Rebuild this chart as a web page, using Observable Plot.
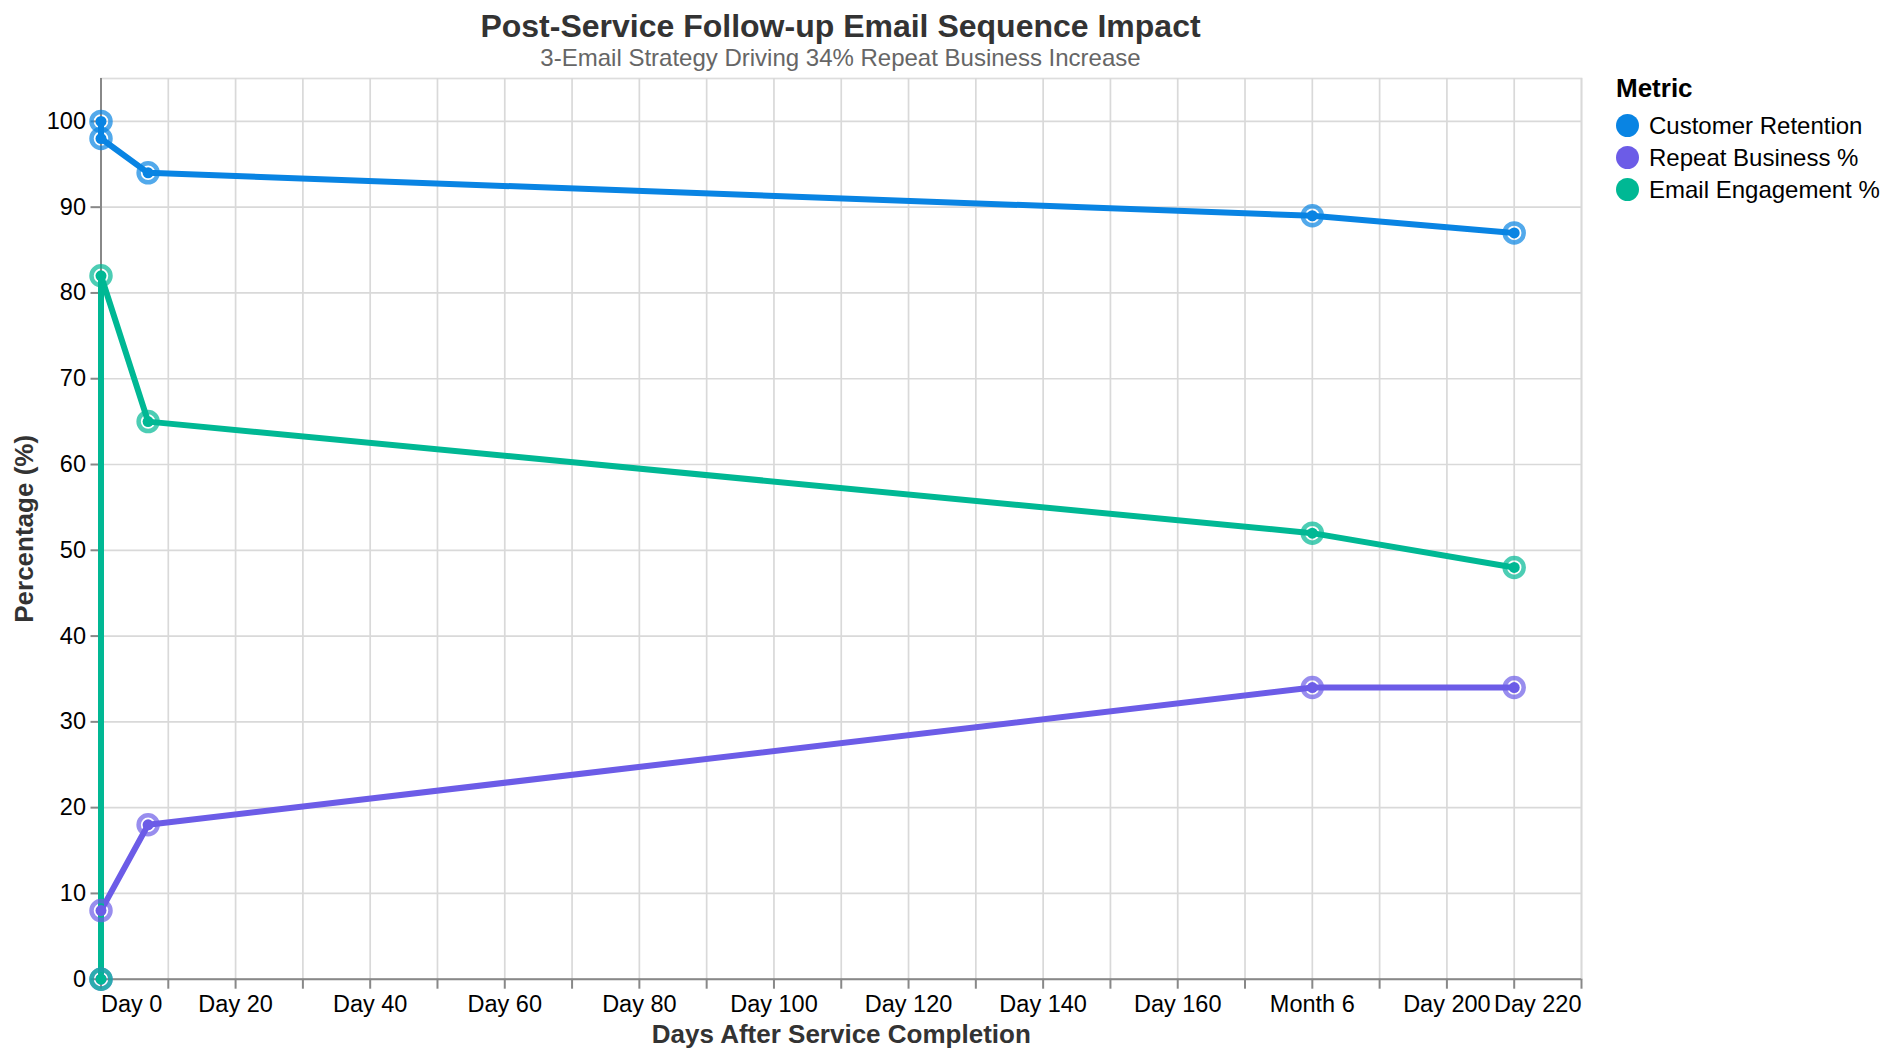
<!DOCTYPE html>
<html><head><meta charset="utf-8">
<script src="https://cdn.jsdelivr.net/npm/d3@7"></script>
<script src="https://cdn.jsdelivr.net/npm/@observablehq/plot@0.6"></script>
<style>
body{margin:0;background:#fff;font-family:"Liberation Sans",Arial,sans-serif;}
#wrap{position:relative;width:1890px;height:1058px;overflow:hidden;background:#fff;}
#chart{position:absolute;left:0;top:0;}
.ttl{position:absolute;left:100px;width:1481px;text-align:center;line-height:1;white-space:nowrap;}
#title{top:9.6px;font-size:32px;font-weight:bold;color:#333;}
#subtitle{top:46.4px;font-size:24px;color:#666;}
#legend{position:absolute;left:1616px;top:0;width:274px;height:220px;}
#legend .lt{position:absolute;left:0;top:75.3px;font-size:26px;font-weight:bold;line-height:1;color:#000;}
#legend .row{position:absolute;left:0;height:32px;display:flex;align-items:center;white-space:nowrap;}
#legend .sw{width:23px;height:23px;border-radius:50%;flex:none;}
#legend .lab{margin-left:10px;font-size:24px;line-height:1;color:#000;}
</style></head>
<body>
<div id="wrap">
  <div id="chart"></div>
  <div id="title" class="ttl"></div>
  <div id="subtitle" class="ttl"></div>
  <div id="legend"></div>
</div>
<script>
// ---- data ----
const titleText = "Post-Service Follow-up Email Sequence Impact";
const subtitleText = "3-Email Strategy Driving 34% Repeat Business Increase";
const xTitle = "Days After Service Completion";
const yTitle = "Percentage (%)";
const legendTitle = "Metric";
const metrics = ["Customer Retention", "Repeat Business %", "Email Engagement %"];
const colors = ["#0984e3", "#6c5ce7", "#00b894"];
const days = [0, 0, 7, 180, 210];
const retention = [100, 98, 94, 89, 87];
const repeatBusiness = [0, 8, 18, 34, 34];
const engagement = [0, 82, 65, 52, 48];
const xTickDays = [0,10,20,30,40,50,60,70,80,90,100,110,120,130,140,150,160,170,180,190,200,210,220];
const xLabelDays = [0,20,40,60,80,100,120,140,160,180,200,220];
const xLabelTexts = ["Day 0","Day 20","Day 40","Day 60","Day 80","Day 100","Day 120","Day 140","Day 160","Month 6","Day 200","Day 220"];
const yTicks = [0,10,20,30,40,50,60,70,80,90,100];

// ---- build ----
const series = [retention, repeatBusiness, engagement];
const rows = metrics.flatMap((m, i) => days.map((d, j) => ({metric: m, day: d, value: series[i][j]})));
const fmt = d => xLabelTexts[xLabelDays.indexOf(d)];
const midDays = xLabelDays.slice(1, -1);
const firstDay = xLabelDays.slice(0, 1);
const lastDay = xLabelDays.slice(-1);
const font = '"Liberation Sans", Arial, sans-serif';

const labelAxisOpts = {tickSize: 0, tickPadding: 16, label: null, fontSize: 23.5, fill: "#000", tickFormat: fmt};

const chart = Plot.plot({
  width: 1890, height: 1058,
  marginLeft: 100.5, marginRight: 309, marginTop: 78, marginBottom: 79.3,
  style: {fontFamily: font, fontSize: "23.5px", color: "#000", background: "transparent"},
  x: {domain: [xTickDays[0], xTickDays[xTickDays.length - 1]]},
  y: {domain: [0, 105]},
  color: {domain: metrics, range: colors},
  marks: [
    Plot.frame({stroke: "#ddd", strokeWidth: 1.7}),
    Plot.gridX(xTickDays, {stroke: "#d9d9d9", strokeOpacity: 1, strokeWidth: 1.7}),
    Plot.gridY(yTicks, {stroke: "#d9d9d9", strokeOpacity: 1, strokeWidth: 1.7}),
    Plot.ruleY([0], {stroke: "#888", strokeWidth: 2}),
    Plot.ruleX([0], {stroke: "#888", strokeWidth: 2}),
    Plot.axisX(xTickDays, {tickSize: 10, stroke: "#888", strokeWidth: 2, tickFormat: () => "", label: null}),
    Plot.axisX(midDays, labelAxisOpts),
    Plot.axisX(firstDay, {...labelAxisOpts, textAnchor: "start"}),
    Plot.axisX(lastDay, {...labelAxisOpts, textAnchor: "end"}),
    Plot.axisX([], {tickSize: 0, label: xTitle, labelAnchor: "center", labelArrow: "none", labelOffset: 63.5, fontSize: 26, fontWeight: "bold", fill: "#333"}),
    Plot.axisY(yTicks, {tickSize: 10, tickPadding: 5, stroke: "#888", strokeWidth: 2, label: null, fontSize: 23.5, fill: "#000"}),
    Plot.axisY([], {tickSize: 0, label: yTitle, labelAnchor: "center", labelArrow: "none", labelOffset: 86, fontSize: 26, fontWeight: "bold", fill: "#333"}),
    Plot.line(rows, {x: "day", y: "value", z: "metric", stroke: "metric", strokeWidth: 6, strokeLinejoin: "round", strokeLinecap: "round"}),
    Plot.dot(rows, {x: "day", y: "value", stroke: "metric", r: 9.5, strokeWidth: 4.5, strokeOpacity: 0.7}),
    Plot.dot(rows, {x: "day", y: "value", fill: "metric", r: 5.5})
  ]
});
document.getElementById("chart").appendChild(chart);
document.getElementById("title").textContent = titleText;
document.getElementById("subtitle").textContent = subtitleText;

const lg = document.getElementById("legend");
const lt = document.createElement("div");
lt.className = "lt"; lt.textContent = legendTitle; lg.appendChild(lt);
metrics.forEach((m, i) => {
  const row = document.createElement("div");
  row.className = "row";
  row.style.top = (109.7 + 32 * i) + "px";
  const sw = document.createElement("div");
  sw.className = "sw"; sw.style.background = colors[i];
  const lab = document.createElement("div");
  lab.className = "lab"; lab.textContent = m;
  row.appendChild(sw); row.appendChild(lab);
  lg.appendChild(row);
});
</script>
</body></html>
